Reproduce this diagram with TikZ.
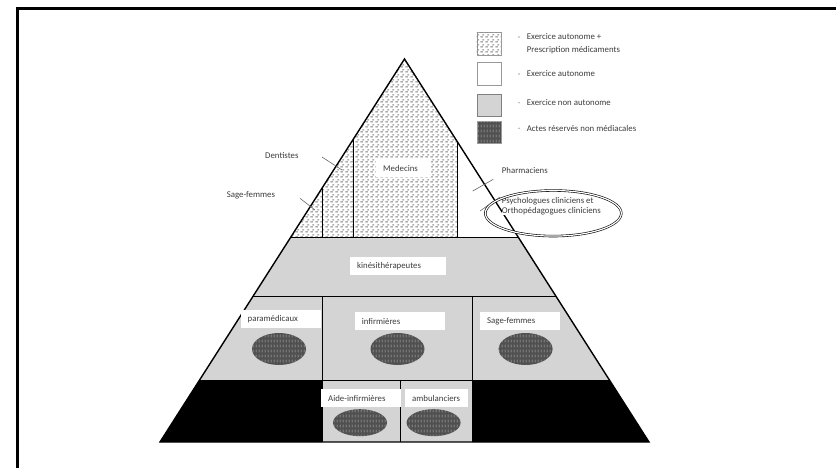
\documentclass[tikz,border=0pt]{standalone}
\usepackage{xcolor}
\usepackage{fontspec}
\setmainfont{Carlito}
\usepackage{tikz}
\usetikzlibrary{patterns.meta}

\definecolor{cellgray}{HTML}{D4D4D4}
\definecolor{actgray}{HTML}{505050}
\definecolor{txtgray}{HTML}{3C3C3C}

\tikzdeclarepattern{name=prescdots, type=uncolored,
  bounding box={(0pt,0pt) and (5pt,5pt)}, tile size={(5pt,5pt)},
  code={\fill (0.3pt,0.6pt) rectangle (3.3pt,1.8pt);
        \fill (2.8pt,3.1pt) rectangle (4.8pt,4.3pt);}}
\tikzdeclarepattern{name=actsticks, type=uncolored,
  bounding box={(0pt,0pt) and (3pt,5pt)}, tile size={(3pt,5pt)},
  code={\fill (1pt,0.8pt) rectangle (1.9pt,4pt);}}

\begin{document}
\begin{tikzpicture}[x=1pt,y=-1pt,font=\fontsize{8.8}{10.7}\selectfont,
    lab/.style={fill=white,anchor=north west,inner xsep=7pt,inner ysep=0pt,minimum height=18pt,align=left,text=txtgray},
    tag/.style={draw=none,anchor=west,inner sep=0pt,text=txtgray},
    presc/.style={fill=white,postaction={pattern=prescdots,pattern color=black!50}},
    acts/.style={fill=actgray,postaction={pattern=actsticks,pattern color=white!60!actgray}},
    tick/.style={draw=black!60,line width=0.6pt}]
             \useasboundingbox (0,0) rectangle (836,468);
             \draw[line width=3pt] (17,468) -- (17,9) -- (836,9);

             % top part
             \fill[presc] (404.5,59) -- (290.9,237) -- (518.1,237) -- cycle;
             \fill[white] (457,141.2) -- (457,237) -- (518.1,237) -- cycle;
             % rows
             \fill[cellgray] (290.9,237) -- (518.1,237) -- (555.8,296) -- (253.2,296) -- cycle;
             \fill[cellgray] (253.2,296) -- (555.8,296) -- (609.4,380) -- (199.6,380) -- cycle;
             \fill[black] (199.6,380) -- (322.5,380) -- (322.5,442) -- (160,442) -- cycle;
             \fill[black] (472,380) -- (609.4,380) -- (649,442) -- (472,442) -- cycle;
             \fill[cellgray] (322.5,380) rectangle (472,442);

             \draw[line width=1.4pt] (160,442) -- (404.5,59) -- (649,442) -- cycle;
             \draw[line width=1pt] (290.9,237) -- (518.1,237) (253.2,296) -- (555.8,296) (199.6,380) -- (609.4,380);
             \draw[line width=0.9pt] (322,188.2) -- (322,237) (353,139.7) -- (353,237) (457,141.2) -- (457,237);
             \draw (322.5,296) -- (322.5,442) (472,296) -- (472,442) (400,380) -- (400,442);

             \foreach \x/\y/\ry in {279/349/16, 397.5/349/16, 525.6/349/16, 360/422.7/13.5, 433.6/422.7/13.5}
               \path[acts] (\x,\y) ellipse [x radius=27, y radius=\ry];

             % labels in the pyramid
             \node[lab,text width=41pt] (medecins) at (376,159) {Medecins};
             \node[lab,text width=82pt] (kine) at (350,257) {kinésithérapeutes};
             \node[lab,text width=66.5pt] (paramed) at (240.5,310) {paramédicaux};
             \node[lab,text width=76.4pt] (infirm) at (354.6,312) {infirmières};
             \node[lab,text width=66pt] (sagefm) at (480,312) {Sage-femmes};
             \node[lab,text width=66pt] (aideinf) at (321,389) {Aide-infirmières};
             \node[lab,text width=49pt] (ambul) at (405,389) {ambulanciers};

             % side labels
             \draw[tick] (322,157) -- (342,170);
             \draw[tick] (300,198.3) -- (315,210);
             \draw[tick] (472.7,191) -- (493.3,179.3);
             \draw[tick] (480,211) -- (500,197);
             \node[tag] (dentistes) at (265,155) {Dentistes};
             \node[tag] (sagef) at (226.7,195) {Sage-femmes};
             \node[tag] (pharma) at (501.7,170.7) {Pharmaciens};
             \node[tag,fill=white,align=left] (psycho) at (501.7,206.3) {Psychologues cliniciens et\\Orthopédagogues cliniciens};
             \draw[double,line width=0.6pt,double distance=1.2pt] (553.3,213.3) ellipse [x radius=68, y radius=22.8];

             % legend
             \draw[draw=black!40,presc] (476.7,32.7) rectangle (500.7,55);
             \draw[draw=black!40,fill=white] (476.7,62.7) rectangle (500.7,85);
             \draw[draw=black!50,fill=cellgray] (476.7,94) rectangle (500.7,116.7);
             \draw[draw=black!40,acts] (476.7,121.7) rectangle (500.7,143.3);
             \foreach \y in {37,74,102.7,128.3}
               \fill[black!35] (519,\y) circle (0.8);
             \node[tag,align=left] (leg1) at (526.7,43.7) {Exercice autonome +\\[1.5pt]Prescription médicaments};
             \node[tag] (leg2) at (526.7,74) {Exercice autonome};
             \node[tag] (leg3) at (526.7,102.7) {Exercice non autonome};
             \node[tag] (leg4) at (526.7,128.3) {Actes réservés non médiacales};
             \end{tikzpicture}
\end{document}
